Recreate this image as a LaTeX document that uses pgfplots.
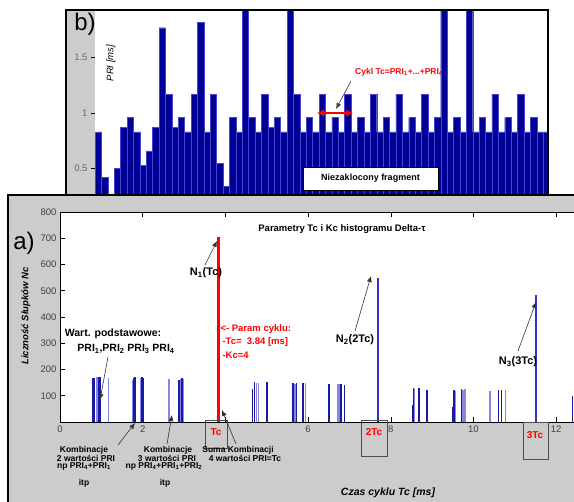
\documentclass[border=0pt]{standalone}
\usepackage{pgfplots}
\pgfplotsset{compat=1.18}
\usetikzlibrary{arrows.meta}
\usepackage{fontspec}
\setmainfont{Liberation Sans}
\definecolor{mgray}{RGB}{204,204,204}
\definecolor{navy}{RGB}{0,0,150}
\definecolor{navyedge}{RGB}{70,70,210}
\definecolor{dblue}{RGB}{25,25,165}
\definecolor{lblue}{RGB}{135,135,225}
\definecolor{mblue}{RGB}{50,50,200}
\definecolor{mred}{RGB}{255,0,0}
\newcommand{\fs}[1]{\fontsize{#1}{#1}\selectfont}
\begin{document}
\begin{tikzpicture}[x=1pt,y=1pt,font=\bfseries]
\useasboundingbox (0,0) rectangle (574,-502);
\clip (0,0) rectangle (574,-502);
\fill[white] (0,0) rectangle (574,-502);

% ---- panel b: PRI sequence
\fill[mgray] (66,-10) rectangle (95,-260);
\begin{axis}[at={(95pt,-10pt)}, anchor=north west, scale only axis,
  width=452pt, height=214pt,
  xmin=0, xmax=70.6, ymin=0, ymax=1.93,
  axis line style={draw=none},
  xtick=\empty, ytick={0.5,1,1.5}, yticklabels={0.5,1,1.5},
  ytick pos=left, tick align=outside, major tick length=4pt,
  tick style={black, line width=0.5pt},
  yticklabel style={font=\mdseries\fs{9.5}, text=black!60}]
\addplot[ybar interval, fill=navy, draw=navyedge, line width=0.4pt] coordinates {
(0,0.83) (1,0.42) (2,0.25) (3,0.50) (4,0.87) (5,0.96) (6,0.83) (7,0.53)
(8,0.66) (9,0.87) (10,1.77) (11,1.17) (12,0.87) (13,0.96) (14,0.83) (15,1.17)
(16,1.82) (17,0.83) (18,1.17) (19,0.55) (20,0.34) (21,0.96) (22,0.83) (23,2.2)
(24,0.96) (25,0.83) (26,1.17) (27,0.87) (28,0.96) (29,0.83) (30,2.2) (31,1.17)
(32,0.83) (33,0.96) (34,0.83) (35,1.17) (36,0.83) (37,0.96) (38,0.83) (39,1.17)
(40,0.83) (41,0.96) (42,0.83) (43,1.17) (44,0.83) (45,0.96) (46,0.83) (47,1.17)
(48,0.83) (49,0.96) (50,0.83) (51,1.17) (52,0.83) (53,0.96) (54,2.2) (55,0.83)
(56,0.96) (57,0.83) (58,2.2) (59,0.83) (60,0.96) (61,0.83) (62,1.17) (63,0.83)
(64,0.96) (65,0.83) (66,1.17) (67,0.83) (68,0.96) (69,0.83) (70,0.83) (71,0.83)};
\end{axis}
\draw[black, line width=1.2pt] (66,-260) -- (66,-10) -- (548,-10) -- (548,-260);
\node[font=\mdseries\fs{24}] at (85,-24) {b)};
\node[rotate=90, font=\mdseries\itshape\fs{9.5}] at (111,-63) {PRI [ms]};
\node[text=mred, font=\bfseries\fs{8.5}] at (399,-72) {Cykl Tc=PRI\textsubscript{1}+...+PRI\textsubscript{4}};
\draw[-{Latex[length=6pt,width=5pt]}, black!75, line width=0.6pt] (351,-81) -- (336,-109);
\draw[{Latex[length=7pt,width=8pt]}-{Latex[length=7pt,width=8pt]}, mred, line width=1.8pt] (317,-113) -- (353,-113);
\node[draw=black, fill=white, line width=0.6pt, minimum width=135pt, minimum height=23pt,
  font=\bfseries\fs{9}] at (370.5,-178.5) {Niezaklocony fragment};

% ---- panel a: Delta-tau histogram
\filldraw[fill=mgray, draw=black, line width=1.2pt] (8,-195) rectangle (600,-600);
\begin{axis}[at={(60pt,-212pt)}, anchor=north west, scale only axis,
  width=521pt, height=210pt,
  xmin=0, xmax=12.6, ymin=0, ymax=800,
  axis background/.style={fill=white},
  axis line style={black, line width=0.7pt},
  xtick={0,2,...,12}, xticklabels={0,2,,6,8,10,12},
  ytick={0,100,...,800}, yticklabels={,100,200,300,400,500,600,700,800},
  tick align=inside, xtick pos=both, ytick pos=both, major tick length=5pt,
  tick style={black, line width=0.5pt},
  ticklabel style={font=\mdseries\fs{9.5}, text=black!75}]
\addplot[ycomb, lblue, line width=1.4pt] coordinates {
(0.89,170) (1.17,167) (1.75,160) (1.95,168) (2.64,163) (2.92,165) (2.99,163)
(4.75,150) (4.80,150) (5.68,145) (5.93,148) (6.72,143) (6.76,145)
(8.58,127) (9.56,118) (9.75,122) (9.79,124) (10.40,118) (10.77,120)};
\addplot[ycomb, dblue, line width=1.5pt] coordinates {
(0.80,167) (0.84,169) (0.94,172) (0.97,173) (1.79,168) (1.81,171) (1.98,172) (2.02,169)
(2.88,160) (2.95,166) (4.66,125) (4.70,152) (5.01,152) (5.62,110) (5.64,147) (5.72,150)
(5.88,150) (6.50,143) (6.80,145) (6.88,140) (8.52,65) (8.55,128) (8.68,128) (8.88,120)
(9.49,58) (9.53,120) (9.71,124) (10.60,120) (10.68,120) (12.40,98)};
\addplot[ycomb, mblue, line width=2pt] coordinates {(7.68,550) (11.52,485)};
\addplot[ycomb, mred, line width=3pt] coordinates {(3.84,705)};
\end{axis}
\node[font=\mdseries\fs{24}] at (24,-243) {a)};
\node[rotate=90, font=\bfseries\itshape\fs{9.5}] at (26,-316) {Liczność Słupków Nc};
\node[font=\bfseries\fs{9.5}] at (342,-229) {Parametry Tc i Kc histogramu Delta-τ};
\node[font=\bfseries\itshape\fs{10.5}] at (388,-493) {Czas cyklu Tc [ms]};
% peaks
\node[font=\bfseries\fs{11}] at (206,-273) {N\textsubscript{1}(Tc)};
\draw[-{Latex[length=6pt,width=5pt]}, black!80, line width=0.6pt] (205,-265) -- (217,-241);
\node[font=\bfseries\fs{11}] at (355,-340) {N\textsubscript{2}(2Tc)};
\draw[-{Latex[length=6pt,width=5pt]}, black!80, line width=0.6pt] (355,-331) -- (371,-276);
\node[font=\bfseries\fs{11}] at (518,-362) {N\textsubscript{3}(3Tc)};
\draw[-{Latex[length=6pt,width=5pt]}, black!80, line width=0.6pt] (518,-351) -- (536,-302);
% basic values
\node[font=\bfseries\fs{10.5}] at (113,-334) {Wart. podstawowe:};
\node[font=\bfseries\fs{10.5}] at (126,-349) {PRI\textsubscript{1},PRI\textsubscript{2} PRI\textsubscript{3} PRI\textsubscript{4}};
\draw[-{Latex[length=6pt,width=5pt]}, black!80, line width=0.6pt] (108,-357) -- (100,-400);
% cycle parameters
\node[anchor=west, text=mred, font=\bfseries\fs{9.5}] at (217,-329) {<- Param cyklu:};
\node[anchor=west, text=mred, font=\bfseries\fs{9.5}] at (219,-342) {-Tc=\ \ 3.84 [ms]};
\node[anchor=west, text=mred, font=\bfseries\fs{9.5}] at (219,-355) {-Kc=4};
% Tc boxes
\draw[black!70, line width=0.8pt] (205,-420) rectangle (227,-448);
\node[text=mred, font=\bfseries\fs{10}] at (216,-432) {Tc};
\draw[black!70, line width=0.8pt] (361,-420) rectangle (387,-456);
\node[text=mred, font=\bfseries\fs{10}] at (374,-432) {2Tc};
\draw[black!70, line width=0.8pt] (523,-422) rectangle (548,-459);
\node[text=mred, font=\bfseries\fs{10}] at (535,-435) {3Tc};
% combinations
\begin{scope}[every node/.style={font=\bfseries\fs{8.5}, inner sep=0pt}]
\node at (84,-450) {Kombinacje};
\node at (86,-458) {2 wartości PRI};
\node at (84,-466) {np PRI\textsubscript{4}+PRI\textsubscript{1}};
\node at (84,-483) {itp};
\node at (168,-450) {Kombinacje};
\node at (167,-458) {3 wartości PRI};
\node at (164,-466) {np PRI\textsubscript{4}+PRI\textsubscript{1}+PRI\textsubscript{2}};
\node at (165,-483) {itp};
\node at (238,-450) {Suma Kombinacji};
\node at (245,-458) {4 wartości PRI=Tc};
\end{scope}
\draw[-{Latex[length=6pt,width=5pt]}, black!80, line width=0.6pt] (118,-445) -- (135,-423);
\draw[-{Latex[length=6pt,width=5pt]}, black!80, line width=0.6pt] (167,-444) -- (172,-415);
\draw[-{Latex[length=6pt,width=5pt]}, black!80, line width=0.6pt] (236,-444) -- (222,-410);
\end{tikzpicture}
\end{document}
